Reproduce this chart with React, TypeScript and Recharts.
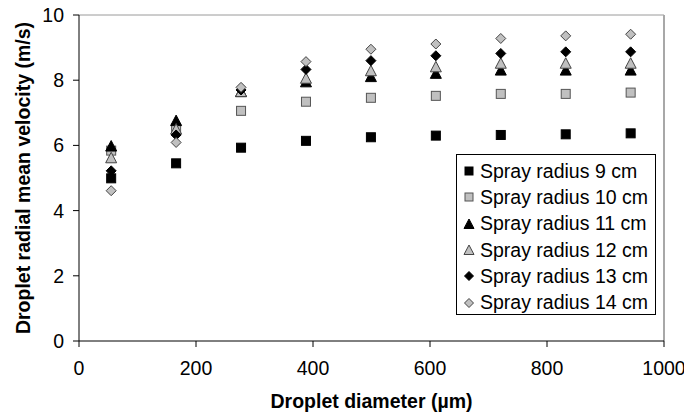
import React from "react";
import {
  ScatterChart,
  Scatter,
  XAxis,
  YAxis,
  ReferenceLine,
  Legend,
  Label,
} from "recharts";

// droplet diameter bins (µm)
const diameters = [55, 166, 277, 388, 499, 610, 721, 832, 943];

// radial mean velocity (m/s) per spray radius
const radius9 = [4.99, 5.45, 5.93, 6.14, 6.25, 6.3, 6.32, 6.34, 6.37];
const radius10 = [5.84, 6.52, 7.06, 7.34, 7.46, 7.52, 7.58, 7.58, 7.62];
const radius11 = [5.98, 6.76, 7.65, 7.95, 8.11, 8.21, 8.31, 8.31, 8.31];
const radius12 = [5.62, 6.5, 7.65, 8.06, 8.29, 8.41, 8.52, 8.52, 8.52];
const radius13 = [5.22, 6.32, 7.7, 8.33, 8.6, 8.75, 8.82, 8.87, 8.87];
const radius14 = [4.61, 6.09, 7.78, 8.57, 8.95, 9.11, 9.28, 9.36, 9.41];

const seriesNames = [
  "Spray radius 9 cm",
  "Spray radius 10 cm",
  "Spray radius 11 cm",
  "Spray radius 12 cm",
  "Spray radius 13 cm",
  "Spray radius 14 cm",
];

const xTicks = [0, 200, 400, 600, 800, 1000];
const yTicks = [0, 2, 4, 6, 8, 10];

const FONT = '"Liberation Sans", Arial, sans-serif';

type Kind = "square" | "triangle" | "diamond";
type Style = { kind: Kind; fill: string; stroke: string };

const styles: Style[] = [
  { kind: "square", fill: "#000", stroke: "#000" },
  { kind: "square", fill: "#c0c0c0", stroke: "#555" },
  { kind: "triangle", fill: "#000", stroke: "#000" },
  { kind: "triangle", fill: "#c0c0c0", stroke: "#444" },
  { kind: "diamond", fill: "#000", stroke: "#000" },
  { kind: "diamond", fill: "#c0c0c0", stroke: "#444" },
];

const toPoints = (vals: number[]) =>
  diameters.map((d, i) => ({ d, v: vals[i] }));

const allSeries = [radius9, radius10, radius11, radius12, radius13, radius14];

// marker drawn centred on (cx, cy)
const Marker = ({ cx, cy, s, r = 5 }: { cx: number; cy: number; s: Style; r?: number }) => {
  if (s.kind === "square") {
    return (
      <rect
        x={cx - r + 0.5}
        y={cy - r + 0.5}
        width={2 * r - 1}
        height={2 * r - 1}
        fill={s.fill}
        stroke={s.stroke}
        strokeWidth={1}
      />
    );
  }
  if (s.kind === "triangle") {
    return (
      <polygon
        points={`${cx},${cy - r - 0.5} ${cx + r + 0.5},${cy + r} ${cx - r - 0.5},${cy + r}`}
        fill={s.fill}
        stroke={s.stroke}
        strokeWidth={1}
      />
    );
  }
  return (
    <polygon
      points={`${cx},${cy - r} ${cx + r},${cy} ${cx},${cy + r} ${cx - r},${cy}`}
      fill={s.fill}
      stroke={s.stroke}
      strokeWidth={1}
    />
  );
};

const LegendBox = () => (
  <div
    style={{
      boxSizing: "border-box",
      width: 200,
      height: 161,
      border: "1px solid #000",
      background: "#fff",
      padding: "3px 0 0 6px",
      fontFamily: FONT,
      fontSize: 19.5,
      color: "#000",
    }}
  >
    {seriesNames.map((name, i) => (
      <div
        key={name}
        style={{ display: "flex", alignItems: "center", height: 26.3, whiteSpace: "nowrap" }}
      >
        <svg width={12} height={12} style={{ marginRight: 5 }}>
          <Marker cx={6} cy={6} s={styles[i]} r={4.5} />
        </svg>
        <span>{name}</span>
      </div>
    ))}
  </div>
);

const YTitle = (props: any) => {
  const { viewBox } = props;
  const cy = viewBox.y + viewBox.height / 2;
  const x = 30;
  return (
    <text
      x={x}
      y={cy}
      transform={`rotate(-90 ${x} ${cy})`}
      textAnchor="middle"
      fontFamily={FONT}
      fontSize={19.5}
      fontWeight="bold"
      fill="#000"
    >
      Droplet radial mean velocity (m/s)
    </text>
  );
};

export default function App() {
  return (
    <div style={{ position: "absolute", left: 0, top: 0, background: "#fff" }}>
      <ScatterChart
        width={684}
        height={414}
        margin={{ top: 15, right: 20, left: 0, bottom: 0 }}
      >
        <XAxis
          dataKey="d"
          type="number"
          domain={[0, 1000]}
          ticks={xTicks}
          interval={0}
          height={73}
          tickSize={6}
          tickMargin={14}
          stroke="#000"
          tick={{ fill: "#000", fontSize: 19.5, fontFamily: FONT }}
          allowDataOverflow
        >
          <Label
            value="Droplet diameter (µm)"
            position="insideBottom"
            offset={6}
            style={{ fontFamily: FONT, fontSize: 19.5, fontWeight: "bold", fill: "#000" }}
          />
        </XAxis>
        <YAxis
          dataKey="v"
          type="number"
          domain={[0, 10]}
          ticks={yTicks}
          interval={0}
          width={79}
          tickSize={6}
          tickMargin={9}
          stroke="#000"
          tick={{ fill: "#000", fontSize: 19.5, fontFamily: FONT }}
        >
          <Label content={<YTitle />} />
        </YAxis>
        <ReferenceLine y={10} stroke="#9a9a9a" strokeWidth={1} />
        <ReferenceLine x={1000} stroke="#a8a8a8" strokeWidth={2} />
        {allSeries.map((vals, i) => (
          <Scatter
            key={seriesNames[i]}
            name={seriesNames[i]}
            data={toPoints(vals)}
            isAnimationActive={false}
            shape={(p: any) =>
              p.cx == null ? null : <Marker cx={p.cx} cy={p.cy} s={styles[i]} />
            }
          />
        ))}
        <Legend
          layout="vertical"
          align="center"
          verticalAlign="middle"
          content={<LegendBox />}
          wrapperStyle={{ left: 456, top: 154, width: 200, height: 161 }}
        />
      </ScatterChart>
    </div>
  );
}
